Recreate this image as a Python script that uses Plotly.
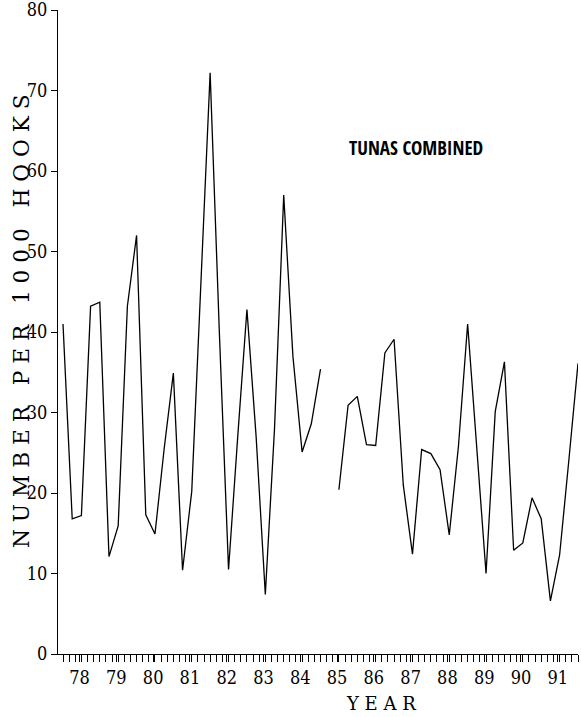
import plotly.graph_objects as go

# quarterly catch rate, tunas combined (number per 1000 hooks); None = no data
start_year = 78
catch_rate = [
    41.0, 16.8, 17.2, 43.2, 43.7, 12.1, 15.9, 43.2, 52.0, 17.3,
    14.9, 25.5, 34.9, 10.4, 20.2, 47.0, 72.2, 40.0, 10.5, 27.0,
    42.8, 27.0, 7.4, 28.0, 57.0, 37.0, 25.1, 28.6, 35.4, None,
    20.4, 30.9, 32.0, 26.0, 25.9, 37.4, 39.1, 21.0, 12.4, 25.4,
    24.9, 22.9, 14.8, 25.8, 41.0, 25.5, 10.0, 30.1, 36.3, 12.9,
    13.8, 19.4, 16.8, 6.6, 12.3, 24.0, 36.1,
]
period = [start_year + i / 4 for i in range(len(catch_rate))]
year_labels = ["78", "79", "80", "81", "82", "83", "84", "85", "86", "87", "88", "89", "90", "91"]
y_ticks = [0, 10, 20, 30, 40, 50, 60, 70, 80]

NB = "\u00a0"
def spaced(word):
    return NB.join(word)

ytitle = (NB * 3).join(spaced(w) for w in ["NUMBER", "PER", "1000", "HOOKS"])

fig = go.Figure()
fig.add_trace(go.Scatter(x=period, y=catch_rate, mode="lines",
                         line=dict(color="black", width=1.3),
                         connectgaps=False, showlegend=False, hoverinfo="skip"))

tick_font = dict(family="DejaVu Serif Condensed, DejaVu Serif, serif", size=18, color="black")

fig.update_layout(
    width=581, height=717,
    margin=dict(l=58, r=3, t=10, b=63, autoexpand=False),
    paper_bgcolor="white", plot_bgcolor="white",
    xaxis=dict(range=[77.864, 92.0], showgrid=False, zeroline=False, automargin=False,
               showline=True, linecolor="black", linewidth=1,
               tickvals=[int(y) + 0.45 for y in year_labels], ticktext=year_labels,
               ticks="outside", ticklen=7, tickcolor="black", tickwidth=1,
               minor=dict(ticks="outside", tick0=78, dtick=1/6, ticklen=7,
                          tickcolor="black", tickwidth=1, showgrid=False),
               tickfont=tick_font),
    yaxis=dict(range=[0, 80], showgrid=False, zeroline=False, automargin=False,
               showline=True, linecolor="black", linewidth=1,
               tickvals=y_ticks, ticks="outside", ticklen=6, tickcolor="black",
               ticklabeloverflow="allow", tickfont=tick_font),
)

fig.add_annotation(x=(21 - 58) / 520, y=(654 - 321) / 644, xref="paper", yref="paper",
                   xanchor="center", yanchor="middle",
                   text=ytitle, textangle=-90, showarrow=False,
                   font=dict(family="DejaVu Serif", size=21.7, color="black"))
fig.add_annotation(x=(381 - 58) / 520, y=(654 - 716) / 644, xref="paper", yref="paper",
                   xanchor="center", yanchor="bottom", text=spaced("YEAR"), showarrow=False,
                   font=dict(family="DejaVu Serif", size=18, color="black"))
fig.add_annotation(x=87.59, y=62.9, text="TUNAS COMBINED", showarrow=False,
                   font=dict(family="Open Sans Condensed, DejaVu Sans Condensed, sans-serif",
                             size=19, color="black"))

# let the 581x717 figure fill the window exactly (no default body margin)
fig.write_html("out.html", config={"displayModeBar": False},
               post_script="document.body.style.margin='0';")
